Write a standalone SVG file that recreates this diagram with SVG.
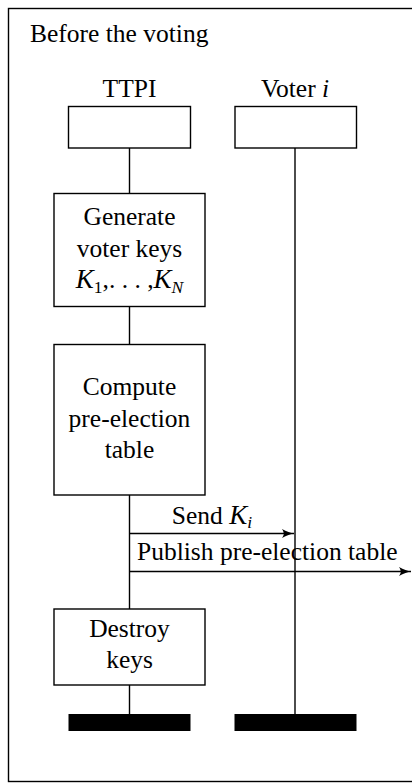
<svg xmlns="http://www.w3.org/2000/svg" width="412" height="783" viewBox="0 0 412 783">
<style>
text{font-size:25.5px;fill:#000}
.c{text-anchor:middle}
.m{font-style:italic}
.k{font-style:italic;font-size:27px}
.s{font-size:17.5px}
.box{fill:#fff;stroke:#000;stroke-width:1.4}
.ln{stroke:#000;stroke-width:1.4;fill:none}
.bar{fill:#000}
</style>
<defs>
<marker id="ah" markerWidth="14" markerHeight="12" refX="12" refY="6" orient="auto" markerUnits="userSpaceOnUse">
<path d="M0,1.5 Q7,5.2 12,6 Q7,6.8 0,10.5 Q3.5,6 0,1.5 Z" fill="#000"/>
</marker>
</defs>
<rect x="8.5" y="8.5" width="430" height="773" fill="none" stroke="#000" stroke-width="1.4"/>
<g font-family="'Liberation Serif', 'Times New Roman', serif">
<text x="30" y="42">Before the voting</text>
<g id="connectors">
<line class="ln" x1="129.5" y1="148" x2="129.5" y2="714"/>
<line class="ln" x1="295" y1="148" x2="295" y2="714"/>
<line class="ln" x1="129.5" y1="533.5" x2="294" y2="533.5" marker-end="url(#ah)"/>
<text class="c" x="212" y="523.5">Send <tspan class="k">K</tspan><tspan class="m s" dy="4.5">i</tspan></text>
<line class="ln" x1="129.5" y1="571.5" x2="411" y2="571.5" marker-end="url(#ah)"/>
<text x="137" y="560">Publish pre-election table</text>
</g>
<g id="ttpi">
<text class="c" x="129.5" y="97">TTPI</text>
<rect class="box" x="68.5" y="106.5" width="122" height="41.5"/>
</g>
<g id="voter">
<text class="c" x="295" y="97">Voter <tspan class="m">i</tspan></text>
<rect class="box" x="235" y="106.5" width="121.5" height="41.5"/>
</g>
<g id="generate">
<rect class="box" x="54" y="193.5" width="151" height="113"/>
<text class="c" x="129.5" y="225">Generate</text>
<text class="c" x="129.5" y="257">voter keys</text>
<text class="c" x="129.5" y="288"><tspan class="k">K</tspan><tspan class="s" dy="4.5">1</tspan><tspan dy="-4.5">,. . . ,</tspan><tspan class="k">K</tspan><tspan class="m s" dy="4.5">N</tspan></text>
</g>
<g id="compute">
<rect class="box" x="54" y="344.5" width="151" height="150.5"/>
<text class="c" x="129.5" y="395">Compute</text>
<text class="c" x="129.5" y="426.5">pre-election</text>
<text class="c" x="129.5" y="458">table</text>
</g>
<g id="destroy">
<rect class="box" x="54" y="609" width="151" height="76"/>
<text class="c" x="129.5" y="636.5">Destroy</text>
<text class="c" x="129.5" y="668">keys</text>
</g>
</g>
<g id="end-ttpi"><rect class="bar" x="68.5" y="714" width="122" height="17"/></g>
<g id="end-voter"><rect class="bar" x="234.5" y="714" width="122" height="17"/></g>
</svg>
